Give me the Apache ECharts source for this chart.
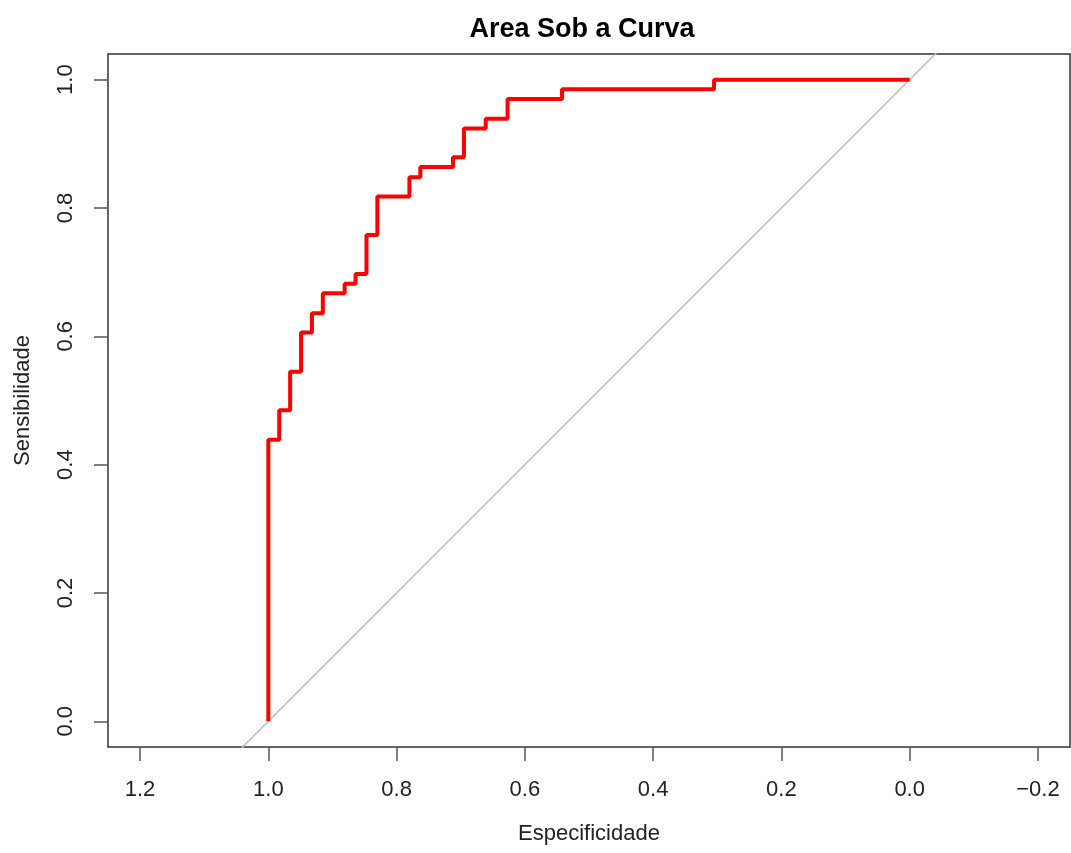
<!DOCTYPE html>
<html>
<head>
<meta charset="utf-8">
<title>Area Sob a Curva</title>
<script src="https://cdn.jsdelivr.net/npm/echarts@6/dist/echarts.min.js"></script>
<style>
  html, body { margin: 0; padding: 0; background: #fff; }
  #chart { width: 1071px; height: 853px; }
</style>
</head>
<body>
<div id="chart"></div>
<script>
// ROC curve points
const especificidade = [1.0, 1.0, 0.983, 0.966, 0.949, 0.932, 0.915, 0.881, 0.864, 0.847, 0.830, 0.780, 0.763, 0.712, 0.695, 0.661, 0.627, 0.542, 0.305, 0.0];
const sensibilidade = [0.0, 0.439, 0.485, 0.545, 0.606, 0.636, 0.667, 0.682, 0.697, 0.758, 0.818, 0.848, 0.864, 0.879, 0.924, 0.939, 0.970, 0.985, 1.0, 1.0];
const xTicks = [1.2, 1.0, 0.8, 0.6, 0.4, 0.2, 0.0, -0.2];
const yTicks = [0.0, 0.2, 0.4, 0.6, 0.8, 1.0];
// reference line: sens = 1 - spec
const diagonal = [[1.25, -0.25], [-0.25, 1.25]];

const chart = echarts.init(document.getElementById('chart'));
const font = 'Liberation Sans, Arial, Helvetica, sans-serif';
const fmt = (v) => (v < 0 ? '\u2212' : '') + Math.abs(v).toFixed(1);

chart.setOption({
  animation: false,
  backgroundColor: '#fff',
  title: {
    text: 'Area Sob a Curva',
    left: 577,
    textAlign: 'center',
    top: 11,
    textStyle: { fontFamily: font, fontSize: 27, fontWeight: 'bold', color: '#000' },
  },
  grid: {
    left: 108,
    right: 1,
    top: 54,
    bottom: 106,
    show: true,
    borderColor: '#333',
    borderWidth: 1.5,
  },
  xAxis: {
    type: 'value',
    inverse: true,
    min: -0.25,
    max: 1.25,
    name: 'Especificidade',
    nameLocation: 'middle',
    nameGap: 76,
    nameTextStyle: { fontFamily: font, fontSize: 22, color: '#222' },
    axisLine: { show: false, onZero: false },
    splitLine: { show: false },
    axisTick: {
      show: true,
      length: 14,
      customValues: xTicks,
      lineStyle: { color: '#555', width: 1.5 },
    },
    axisLabel: {
      customValues: xTicks,
      formatter: fmt,
      margin: 32,
      fontFamily: font,
      fontSize: 22,
      color: '#222',
    },
  },
  yAxis: {
    type: 'value',
    min: -0.04,
    max: 1.04,
    name: 'Sensibilidade',
    nameLocation: 'middle',
    nameGap: 74,
    nameTextStyle: { fontFamily: font, fontSize: 22, color: '#222' },
    axisLine: { show: false, onZero: false },
    splitLine: { show: false },
    axisTick: {
      show: true,
      length: 14,
      customValues: yTicks,
      lineStyle: { color: '#555', width: 1.5 },
    },
    axisLabel: {
      customValues: yTicks,
      formatter: fmt,
      rotate: 90,
      margin: 31,
      fontFamily: font,
      fontSize: 22,
      color: '#222',
    },
  },
  series: [
    {
      name: 'diagonal',
      type: 'line',
      data: diagonal,
      showSymbol: false,
      silent: true,
      clip: true,
      lineStyle: { color: '#bebebe', width: 1.5 },
    },
    {
      name: 'ROC',
      type: 'line',
      step: 'end',
      data: especificidade.map((x, i) => [x, sensibilidade[i]]),
      showSymbol: false,
      lineStyle: { color: '#ff0000', width: 4 },
    },
  ],
});
</script>
</body>
</html>
